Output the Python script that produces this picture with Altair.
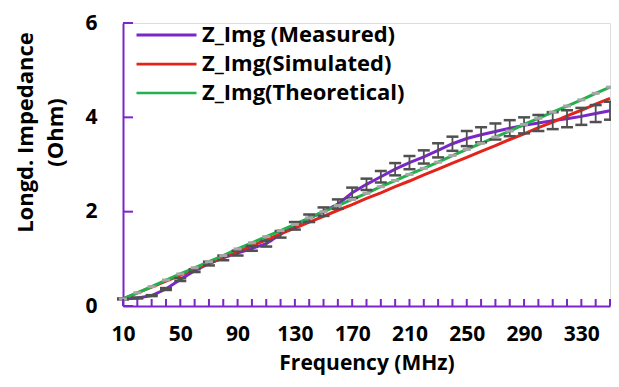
import altair as alt
import pandas as pd

freq = [10, 20, 30, 40, 50, 60, 70, 80, 90, 100, 110, 120, 130, 140, 150, 160, 170,
        180, 190, 200, 210, 220, 230, 240, 250, 260, 270, 280, 290, 300, 310, 320,
        330, 340, 350]
measured = [0.15, 0.17, 0.22, 0.36, 0.56, 0.75, 0.90, 1.02, 1.12, 1.22, 1.32, 1.52,
            1.70, 1.86, 2.00, 2.16, 2.40, 2.58, 2.74, 2.90, 3.04, 3.16, 3.30, 3.44,
            3.55, 3.63, 3.70, 3.77, 3.83, 3.88, 3.93, 3.97, 4.02, 4.08, 4.14]
simulated = [0.15, 0.28, 0.40, 0.53, 0.65, 0.78, 0.90, 1.03, 1.15, 1.28, 1.40, 1.53,
             1.65, 1.78, 1.90, 2.03, 2.15, 2.28, 2.40, 2.53, 2.65, 2.78, 2.90, 3.03,
             3.15, 3.28, 3.40, 3.53, 3.65, 3.78, 3.90, 4.03, 4.15, 4.28, 4.40]
theoretical = [0.15, 0.28, 0.41, 0.55, 0.68, 0.81, 0.94, 1.07, 1.21, 1.34, 1.47, 1.60,
               1.73, 1.87, 2.00, 2.13, 2.26, 2.39, 2.53, 2.66, 2.79, 2.92, 3.05, 3.19,
               3.32, 3.45, 3.58, 3.71, 3.85, 3.98, 4.11, 4.24, 4.37, 4.51, 4.64]
err = [0.01, 0.01, 0.01, 0.02, 0.03, 0.03, 0.04, 0.05, 0.05, 0.05, 0.06, 0.07, 0.08,
       0.08, 0.09, 0.10, 0.11, 0.12, 0.12, 0.13, 0.14, 0.14, 0.15, 0.15, 0.16, 0.16,
       0.17, 0.17, 0.17, 0.17, 0.18, 0.18, 0.18, 0.18, 0.19]
x_labels = [10, 50, 90, 130, 170, 210, 250, 290, 330]
y_ticks = [0, 2, 4, 6]
series = ["Z_Img (Measured)", "Z_Img(Simulated)", "Z_Img(Theoretical)"]
colors = ["#7A26C9", "#E3241B", "#22B14C"]

W, H = 487, 283
PURPLE = "#7A26C9"
FONT = "Open Sans"

rows = []
for s, vals in zip(series, [measured, simulated, theoretical]):
    for f, v in zip(freq, vals):
        rows.append({"f": f, "v": v, "s": s})
long = pd.DataFrame(rows)
meas = pd.DataFrame({"f": freq, "v": measured, "lo": [m - e for m, e in zip(measured, err)],
                     "hi": [m + e for m, e in zip(measured, err)]})
theo = pd.DataFrame({"f": freq, "v": theoretical})
xt = pd.DataFrame({"f": freq})
yt = pd.DataFrame({"v": y_ticks})

xscale = alt.Scale(domain=[10, 350], nice=False, zero=False)
yscale = alt.Scale(domain=[0, 6], nice=False)

xaxis = alt.Axis(values=x_labels, ticks=False, tickSize=0, grid=False, labelPadding=17,
                 labelFontSize=21, labelFont=FONT, labelFontWeight="bold", labelColor="black",
                 domainColor=PURPLE, domainWidth=2, title="Frequency (MHz)",
                 titleFontSize=21, titleFont=FONT, titleFontWeight="bold", titleColor="black",
                 titlePadding=8, labelFlush=False)
yaxis = alt.Axis(values=y_ticks, ticks=False, tickSize=0, grid=False, labelPadding=26,
                 labelFontSize=21, labelFont=FONT, labelFontWeight="bold", labelColor="black",
                 domainColor=PURPLE, domainWidth=2, title=["Longd. Impedance", "(Ohm)"],
                 titleFontSize=22, titleFont=FONT, titleFontWeight="bold", titleColor="black",
                 titlePadding=17, titleLineHeight=30, titleY=109)

X = alt.X("f:Q", scale=xscale, axis=xaxis)
Y = alt.Y("v:Q", scale=yscale, axis=yaxis)

err_rule = alt.Chart(meas).mark_rule(color="#505050", strokeWidth=1.8).encode(
    x=alt.X("f:Q", scale=xscale), y=alt.Y("lo:Q", scale=yscale), y2="hi:Q")
cap_lo = alt.Chart(meas).mark_tick(orient="horizontal", color="#505050", size=12,
                                   thickness=2.5, opacity=1).encode(
    x=alt.X("f:Q", scale=xscale), y=alt.Y("lo:Q", scale=yscale))
cap_hi = alt.Chart(meas).mark_tick(orient="horizontal", color="#505050", size=12,
                                   thickness=2.5, opacity=1).encode(
    x=alt.X("f:Q", scale=xscale), y=alt.Y("hi:Q", scale=yscale))

lines = alt.Chart(long).mark_line(strokeWidth=3).encode(
    x=X, y=Y,
    color=alt.Color("s:N", scale=alt.Scale(domain=series, range=colors),
                    legend=alt.Legend(orient="none", legendX=12, legendY=-2, title=None,
                                      symbolType="stroke", symbolSize=3600,
                                      symbolStrokeWidth=3.5, labelFont=FONT,
                                      labelFontSize=22, labelFontWeight="bold",
                                      labelColor="black", rowPadding=1, clipHeight=28,
                                      labelOffset=4, labelLimit=400)),
    strokeWidth=alt.StrokeWidth("s:N", scale=alt.Scale(domain=series, range=[3, 2.5, 3]),
                                legend=None),
)

marks = alt.Chart(theo).mark_tick(orient="horizontal", color="#A6A6A6", size=8,
                                  thickness=3, opacity=1).encode(
    x=alt.X("f:Q", scale=xscale), y=alt.Y("v:Q", scale=yscale))

xticks = alt.Chart(xt).mark_rule(color=PURPLE, strokeWidth=2).encode(
    x=alt.X("f:Q", scale=xscale), y=alt.value(H), y2=alt.value(H - 7))
yticks = alt.Chart(yt).mark_rule(color=PURPLE, strokeWidth=2).encode(
    y=alt.Y("v:Q", scale=yscale), x=alt.value(0), x2=alt.value(10))

base = alt.layer(lines, err_rule, cap_lo, cap_hi, marks, xticks, yticks)

chart = base.properties(
    width=W, height=H,
    autosize=alt.AutoSizeParams(type="none"),
    padding={"left": 115, "top": 15, "right": 1, "bottom": 73}
).configure_view(stroke=PURPLE, strokeWidth=2).configure(background="white")

chart.save("out.html", embed_options={"renderer": "svg", "actions": False})
